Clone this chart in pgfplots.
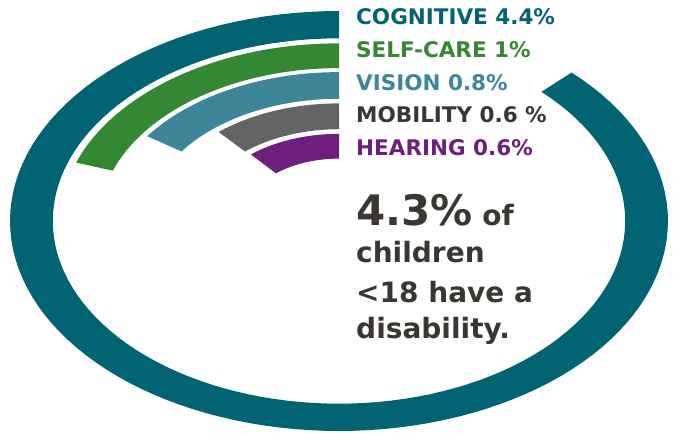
\documentclass[border=0pt]{standalone}
\usepackage{pgfplots}
\pgfplotsset{compat=1.18}
\usepgfplotslibrary{fillbetween}
\usepackage{fontspec}
\setmainfont{DejaVu Sans}

\definecolor{cog}{RGB}{2,99,115}
\definecolor{self}{RGB}{52,135,51}
\definecolor{vis}{RGB}{61,133,152}
\definecolor{mob}{RGB}{100,100,102}
\definecolor{hear}{RGB}{110,30,125}
\definecolor{txt}{RGB}{58,54,50}

% ring segment: name, colour, start angle, end angle, inner radius, outer radius
\newcommand{\ringseg}[6]{%
  \addplot[draw=none, name path=#1o, domain=#3:#4, samples=120] ({#6*cos(x)},{#6*sin(x)});
  \addplot[draw=none, name path=#1i, domain=#3:#4, samples=120] ({#5*cos(x)},{#5*sin(x)});
  \addplot[fill=#2, draw=none] fill between[of=#1o and #1i];
}

\begin{document}
\begin{tikzpicture}
  \begin{axis}[
      width=673pt, height=432pt, scale only axis,
      xmin=-1.0304, xmax=1.0152,
      ymin=-1.0048, ymax=1.0524,
      hide axis,
    ]
    % values: cognitive 4.4, self-care 1, vision 0.8, mobility 0.6, hearing 0.6
    \ringseg{a}{cog}{90}{405}{0.870}{1.000}
    \ringseg{b}{self}{90}{160.8}{0.728}{0.846}
    \ringseg{c}{vis}{90}{145.3}{0.582}{0.709}
    \ringseg{d}{mob}{90}{130.8}{0.437}{0.560}
    \ringseg{e}{hear}{90}{130.2}{0.297}{0.415}
  \end{axis}
  \path (0,0) rectangle (673pt,432pt);
  \begin{scope}[x=1pt, y=1pt, every node/.style={anchor=base west, inner sep=0pt}]
    \node[text=cog,  font=\bfseries\fontsize{21.5}{21}\selectfont] at (356,407) {COGNITIVE 4.4\%};
    \node[text=self, font=\bfseries\fontsize{21.5}{21}\selectfont] at (356,374) {SELF-CARE 1\%};
    \node[text=vis,  font=\bfseries\fontsize{21.5}{21}\selectfont] at (356,341) {VISION 0.8\%};
    \node[text=txt,  font=\bfseries\fontsize{21.5}{21}\selectfont] at (356,309) {MOBILITY 0.6 \%};
    \node[text=hear, font=\bfseries\fontsize{21.5}{21}\selectfont] at (356,276) {HEARING 0.6\%};
    \node[text=txt, font=\bfseries\fontsize{28}{28}\selectfont] at (356,207) {{\fontsize{42}{42}\selectfont 4.3\%} of};
    \node[text=txt, font=\bfseries\fontsize{28}{28}\selectfont] at (356,169) {children};
    \node[text=txt, font=\bfseries\fontsize{28}{28}\selectfont] at (356,130) {<18 have a};
    \node[text=txt, font=\bfseries\fontsize{28}{28}\selectfont] at (356,94) {disability.};
  \end{scope}
\end{tikzpicture}
\end{document}
